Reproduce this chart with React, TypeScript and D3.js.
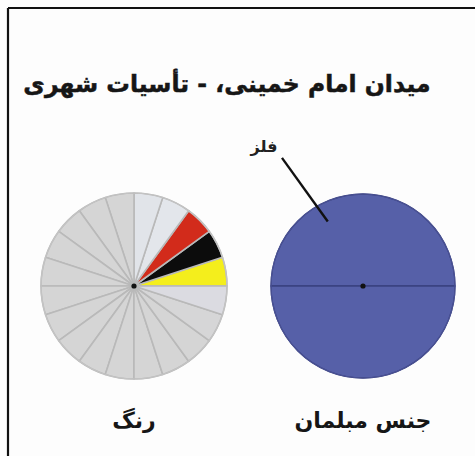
import React from "react";
import * as d3 from "d3";

const W = 475;
const H = 456;

const titleText = "میدان امام خمینی، - تأسیات شهری";

// Pie 1: رنگ (colour) — 20 equal slices, starting at 3 o'clock, counter-clockwise
const colorSliceNames = [
  "زرد", "سیاه", "قرمز", "سفید", "سفید",
  "خاکستری", "خاکستری", "خاکستری", "خاکستری", "خاکستری",
  "خاکستری", "خاکستری", "خاکستری", "خاکستری", "خاکستری",
  "خاکستری", "خاکستری", "خاکستری", "خاکستری", "بنفش روشن",
];
const colorSliceValues = [1, 1, 1, 1, 1, 1, 1, 1, 1, 1, 1, 1, 1, 1, 1, 1, 1, 1, 1, 1];
const colorSliceFills = [
  "#f4ee1c", "#0c0c0c", "#d22b1b", "#e3e6eb", "#e1e4e9",
  "#d5d5d5", "#d5d5d5", "#d5d5d5", "#d5d5d5", "#d5d5d5",
  "#d5d5d5", "#d5d5d5", "#d5d5d5", "#d5d5d5", "#d5d5d5",
  "#d5d5d5", "#d5d5d5", "#d5d5d5", "#d6d6d7", "#dbdbe1",
];
const colorPieLabel = "رنگ";

// Pie 2: جنس مبلمان (furniture material) — all metal
const materialNames = ["فلز", "فلز"];
const materialValues = [50, 50];
const materialFills = ["#5660a8", "#5660a8"];
const materialPieLabel = "جنس مبلمان";
const materialCallout = "فلز";

const FONT = "'DejaVu Sans', 'Noto Sans', sans-serif";

function Pie({
  cx, cy, r, values, fills, stroke, strokeWidth, outline,
}: {
  cx: number; cy: number; r: number; values: number[]; fills: string[];
  stroke: string; strokeWidth: number; outline: string;
}) {
  const pie = d3.pie<number>().sort(null).value((d) => d)
    .startAngle(Math.PI / 2).endAngle(Math.PI / 2 - 2 * Math.PI);
  const arcs = pie(values);
  const arc = d3.arc<d3.PieArcDatum<number>>().innerRadius(0).outerRadius(r);
  return (
    <g transform={`translate(${cx},${cy})`}>
      {arcs.map((a, i) => (
        <path key={i} d={arc(a) || ""} fill={fills[i]} stroke={stroke} strokeWidth={strokeWidth} strokeLinejoin="round" />
      ))}
      <circle r={r} fill="none" stroke={outline} strokeWidth={1.2} />
      <circle r={2.6} fill="#111" />
    </g>
  );
}

export default function App() {
  const leftCx = 134, rightCx = 363, cy = 286, r = 93;
  const inner = d3.pointRadial(-0.5, 0.79 * r);
  const outer = d3.pointRadial(-0.564, 1.63 * r);
  return (
    <svg width={W} height={H} style={{ position: "absolute", left: 0, top: 0, background: "#fff" }}>
      <rect x={0} y={0} width={W} height={H} fill="#fdfdfd" />
      <line x1={8} y1={8} x2={W} y2={8} stroke="#111" strokeWidth={2.2} />
      <line x1={8} y1={8} x2={8} y2={H} stroke="#111" strokeWidth={2.2} />
      <text x={227} y={92} textAnchor="middle" fontFamily={FONT} fontWeight="bold" fontSize={23.5} fill="#161616"
        stroke="#161616" strokeWidth={0.5}>
        {titleText}
      </text>

      <Pie cx={leftCx} cy={cy} r={r} values={colorSliceValues} fills={colorSliceFills}
        stroke="#b9b9b9" strokeWidth={1.6} outline="#c4c4c4" />
      <Pie cx={rightCx} cy={cy} r={r - 1} values={materialValues} fills={materialFills}
        stroke="#3a4180" strokeWidth={1.3} outline="#4a5294" />

      <line x1={rightCx + inner[0]} y1={cy + inner[1]} x2={rightCx + outer[0]} y2={cy + outer[1]}
        stroke="#111" strokeWidth={2.4} />
      <text x={rightCx + outer[0] - 18} y={cy + outer[1] - 6} textAnchor="middle" fontFamily={FONT}
        fontWeight="bold" fontSize={16} fill="#222">{materialCallout}</text>

      <text x={leftCx} y={428} textAnchor="middle" fontFamily={FONT} fontWeight="bold" fontSize={22} fill="#161616">
        {colorPieLabel}
      </text>
      <text x={rightCx} y={428} textAnchor="middle" fontFamily={FONT} fontWeight="bold" fontSize={22} fill="#161616">
        {materialPieLabel}
      </text>
      <title>{colorSliceNames.join(",") + materialNames.join(",")}</title>
    </svg>
  );
}
